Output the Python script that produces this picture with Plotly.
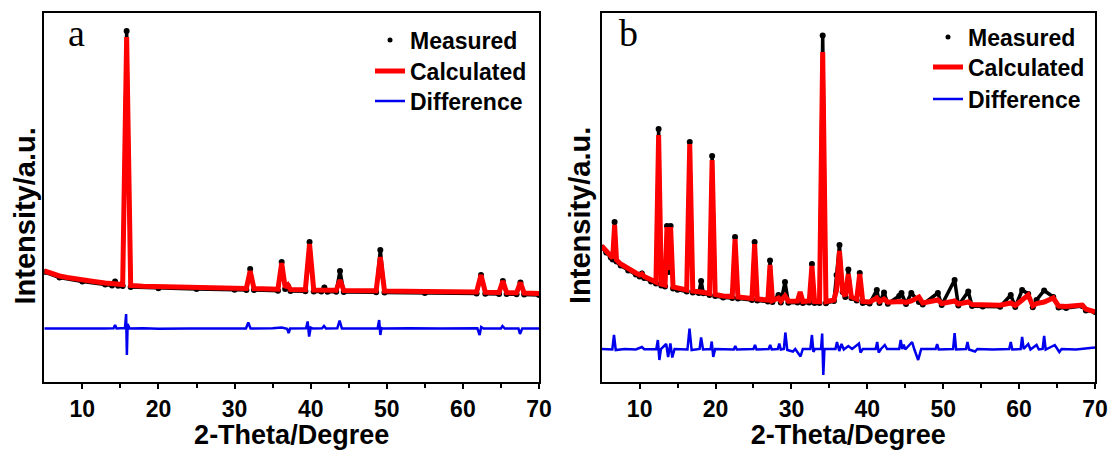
import plotly.graph_objects as go

# ---------------- Panel a ----------------
theta_a_calc = [5, 6, 7, 8, 9, 10, 11.5, 13, 15.3, 15.82, 16.35, 18, 20, 25, 30, 31.55, 32.05, 32.55,
                35.7, 36.19, 36.65, 37.0, 37.35, 39.3, 39.85, 40.4, 43.35, 43.85, 44.35, 48.6, 49.15,
                49.7, 55, 61.8, 62.38, 62.95, 64.75, 65.25, 65.75, 67.05, 67.56, 68.05, 70]
int_a_calc = [111, 108, 106, 104.5, 103, 102, 100.5, 99, 97.5, 345, 96.5, 95.8, 95.3, 94.5, 93.8, 93.6, 111, 93.4,
              92.8, 119, 94.5, 97, 92.5, 92.3, 138, 92, 91.7, 102, 91.6, 91.2, 125,
              91, 90.6, 90, 107, 89.8, 89.6, 101, 89.4, 89.2, 99.5, 89, 88.5]

theta_a_meas = [5, 7, 10, 13, 13.9, 14.3, 14.7, 15.3, 15.82, 16.35, 20, 25, 30, 31.55, 32.05, 32.55, 35.7,
                36.19, 36.65, 37.0, 37.35, 39.3, 39.85, 40.4, 41.4, 41.8, 42.2, 43.35, 43.85, 44.35, 48.6,
                49.15, 49.7, 55, 61.8, 62.38, 62.95, 64.75, 65.25, 65.75, 67.05, 67.56, 68.05, 70]
int_a_meas = [110, 104.5, 100.5, 97.5, 96.5, 100.5, 96.3, 96, 351, 95, 93.8, 93, 92.3, 92, 113, 92, 91.3,
              120, 93, 96, 91, 90.8, 140, 90.5, 90.4, 94.5, 90.3, 90.2, 111, 90, 89.7,
              132, 89.5, 89, 88.5, 107, 88.3, 88, 101, 87.9, 87.7, 99.5, 87.5, 87]

theta_a_diff = [5, 8, 10, 13, 14.1, 14.3, 14.5, 15.6, 15.75, 15.85, 15.95, 16.2, 18, 20, 24, 28, 31.5, 31.8,
                32.1, 35, 36.2, 36.9, 37.1, 37.3, 39.4, 39.6, 39.8, 40.0, 40.3, 41.5, 41.75, 42.0, 43.5,
                43.8, 44.1, 48.8, 49.0, 49.15, 49.3, 49.6, 53, 57, 61.9, 62.2, 62.4, 62.7, 65, 65.2, 65.5,
                67.3, 67.5, 67.8, 70]
int_a_diff = [53.5, 53.3, 53.6, 53.4, 53.7, 57, 53.5, 54, 68, 27, 58, 53.5, 53.8, 53.2, 53.6, 53.4, 53.6, 59.5,
              53.5, 53.7, 54.5, 53.3, 49, 53.5, 53.8, 60.5, 45.5, 54.5, 53.4, 53.8, 56, 53.6, 53.7,
              61.5, 53.4, 53.7, 62, 47, 54, 53.4, 53.8, 53.4, 53.7, 47, 55, 53.5, 53.6, 56, 53.4,
              53.6, 48, 53.5, 53.6]

# ---------------- Panel b ----------------
theta_b_calc = [5, 5.6, 6.2, 6.45, 6.7, 6.95, 7.5, 8.5, 9.5, 10.0, 10.3, 10.6, 11.5, 12.15, 12.5, 12.85,
                13.35, 13.6, 13.85, 14.08, 14.4, 15, 16.2, 16.6, 17.0, 18.1, 19.2, 19.55, 19.95, 21, 22.2,
                22.57, 22.95, 24.8, 25.15, 25.5, 26.9, 27.18, 27.5, 28.3, 28.6, 29.15, 29.6, 30.8, 31.15,
                31.5, 32.35, 32.7, 33.05, 33.7, 34.12, 34.55, 35.6, 35.95, 36.33, 36.75, 37.1, 37.5, 37.9,
                38.6, 39.0, 39.4, 40.3, 41.25, 41.6, 42.2, 42.7, 44.5, 45.1, 45.8, 46.8, 47.3, 49.3, 49.8,
                51.5, 52.0, 53.3, 53.8, 55.2, 57.5, 58.9, 59.5, 60.4, 61.2, 61.8, 62.3, 63.3, 64.5, 65.2,
                66.2, 68.3, 68.8, 70]
int_b_calc = [136, 131, 126, 124, 157, 122, 118, 113, 109, 107, 108, 105.5, 102, 100, 247, 98,
              97, 155, 112, 155, 95, 93.7, 92, 238, 91, 90, 88.5, 222, 87.5, 86, 85.5,
              143, 85, 83.5, 138, 83, 82, 117, 81.5, 84, 81, 86, 80.8, 81, 90,
              80.5, 81, 116, 80.5, 80.4, 330, 80.3, 82, 92, 131, 90, 86, 108, 85,
              83, 108, 80.5, 80, 84, 80.5, 83, 79.8, 80.5, 79.5, 81, 85, 79, 82, 78.5,
              81, 78, 80, 77.5, 77, 76.8, 79, 76.5, 82, 87, 76.3, 78.5, 80, 84, 76,
              75.5, 77, 73, 70]

theta_b_meas = [5, 5.6, 6.2, 6.45, 6.7, 6.95, 7.5, 8.5, 9.5, 10.0, 10.3, 10.6, 11.5, 12.15, 12.5, 12.85,
                13.35, 13.6, 13.85, 14.08, 14.4, 15, 16.2, 16.6, 17.0, 17.8, 18.1, 18.4, 19.2, 19.55, 19.95,
                21, 22.2, 22.57, 22.95, 24.8, 25.15, 25.5, 26.9, 27.18, 27.5, 28.3, 28.6, 29.15, 29.6, 30.8,
                31.15, 31.5, 32.35, 32.7, 33.05, 33.7, 34.12, 34.55, 35.6, 35.95, 36.33, 36.75, 37.1, 37.5,
                37.9, 38.6, 39.0, 39.4, 40.3, 41.25, 41.6, 42.2, 42.7, 44.2, 44.5, 45.1, 45.8, 46.8, 47.3,
                49.3, 49.8, 51.5, 52.0, 53.3, 53.8, 55.2, 57.5, 58.9, 59.5, 60.4, 61.2, 61.8, 62.3, 63.3,
                64.5, 65.2, 66.2, 68.3, 68.8, 70]
int_b_meas = [134.5, 129.5, 124.5, 122.5, 160, 120.5, 116.5, 111.5, 107.5, 105.5, 108.5, 104, 100.5, 98.5, 253, 96.5,
              95.5, 156, 110, 156, 93.5, 92.2, 90.5, 240, 89.5, 89, 101, 88.8, 87, 226, 86,
              84.5, 84, 145, 83.5, 82, 140, 81.5, 80.5, 121.5, 80, 87, 79.5, 100, 79.3, 79.5,
              86, 79, 79.5, 118, 79, 78.9, 346.5, 78.8, 81, 107, 137, 90, 85, 112.5,
              84, 81.5, 109, 79, 78.5, 92, 79, 89.5, 78.3, 86, 89, 78, 89, 80, 77.5,
              89, 77, 102, 76.5, 90.5, 76, 75.5, 75.3, 87, 75, 92, 88, 74.8, 82, 91.5,
              85, 74.5, 74, 76, 71.5, 70]

theta_b_diff = [5, 6.4, 6.62, 6.85, 8, 9.5, 10.3, 10.6, 12.2, 12.4, 12.6, 12.8, 13.5, 13.75, 14.05, 14.3,
                14.6, 16.3, 16.57, 16.85, 17.9, 18.1, 18.35, 19.35, 19.5, 19.7, 19.95, 22.4, 22.6, 22.8,
                25.0, 25.2, 25.4, 27.0, 27.2, 27.4, 28.2, 28.4, 28.6, 29.0, 29.2, 29.45, 30.2, 30.5, 31.2,
                31.5, 32.5, 32.7, 32.9, 33.1, 33.9, 34.05, 34.2, 34.35, 35.8, 36.0, 36.3, 36.6, 36.9, 37.5,
                38.0, 38.9, 39.1, 39.4, 41.1, 41.3, 41.5, 41.8, 42.3, 42.6, 44.2, 44.4, 44.6, 44.8, 45.0,
                45.9, 46.2, 46.7, 47.1, 49.0, 49.2, 49.4, 51.3, 51.5, 51.7, 53.0, 53.2, 53.4, 54.2, 54.5,
                56.5, 58.7, 58.9, 59.1, 60.2, 60.4, 60.6, 61.2, 61.5, 62.3, 62.6, 63.1, 63.3, 63.5, 64.7,
                65.0, 65.3, 65.6, 67.5, 70]
int_b_diff = [33, 32.5, 47, 32, 33, 32.5, 35, 32.8, 33, 42, 22, 33, 38, 25, 38.5, 24.5,
              33, 32.5, 53.5, 32, 33, 44.5, 32.5, 33, 40.5, 25, 33, 32.5, 36, 32.5,
              33, 37, 32.5, 33, 37, 32.5, 33, 38.5, 32.5, 33, 49.5, 32, 30.5, 33, 25.5,
              33, 33, 47, 30, 33, 33, 48.5, 7, 33, 33, 40, 31, 38, 32.5, 36,
              33, 38.5, 29.5, 33, 33, 40, 29.5, 33, 37, 33, 33, 42, 33, 37.5, 32.5,
              40, 32.5, 22, 33, 33, 38, 32.5, 33, 49, 32.5, 33, 40, 32.5, 30.5, 33,
              32.5, 33, 40, 32.5, 33, 45, 33, 38, 32.5, 37, 32.5, 33, 46, 32.5, 37,
              33, 30, 33, 32.5, 34.5]

x_ticks = [10, 20, 30, 40, 50, 60, 70]
x_minor_ticks = [15, 25, 35, 45, 55, 65]
x_title = "2-Theta/Degree"
y_title = "Intensity/a.u."
panel_labels = ["a", "b"]
series_names = ["Measured", "Calculated", "Difference"]

SANS = "Arial, Liberation Sans, sans-serif"
SERIF = "Times New Roman, Liberation Serif, serif"
RED = "#ff0000"
BLUE = "#0000ee"
W, H = 1114, 450

fig = go.Figure()

panels = [
    ("x", "y", ["legend", "legend2", "legend3"],
     theta_a_meas, int_a_meas, theta_a_calc, int_a_calc, theta_a_diff, int_a_diff),
    ("x2", "y2", ["legend4", "legend5", "legend6"],
     theta_b_meas, int_b_meas, theta_b_calc, int_b_calc, theta_b_diff, int_b_diff),
]
for xa, ya, lgs, tm, im, tc, ic, td, idf in panels:
    fig.add_trace(go.Scatter(x=tm, y=im, mode="lines+markers", xaxis=xa, yaxis=ya,
                             line=dict(color="black", width=3.5),
                             marker=dict(color="black", size=6),
                             showlegend=False, legendgroup="m" + xa, name=series_names[0]))
    fig.add_trace(go.Scatter(x=tc, y=ic, mode="lines", xaxis=xa, yaxis=ya,
                             line=dict(color=RED, width=5),
                             showlegend=False, legendgroup="c" + xa, name=series_names[1]))
    fig.add_trace(go.Scatter(x=td, y=idf, mode="lines", xaxis=xa, yaxis=ya,
                             line=dict(color=BLUE, width=2.5),
                             showlegend=False, legendgroup="d" + xa, name=series_names[2]))
    # legend entries (one legend box per entry for exact row placement)
    fig.add_trace(go.Scatter(x=[None], y=[None], mode="markers", xaxis=xa, yaxis=ya,
                             marker=dict(color="black", size=5), name=series_names[0],
                             legend=lgs[0], legendgroup="m" + xa))
    fig.add_trace(go.Scatter(x=[None], y=[None], mode="lines", xaxis=xa, yaxis=ya,
                             line=dict(color=RED, width=5), name=series_names[1],
                             legend=lgs[1], legendgroup="c" + xa))
    fig.add_trace(go.Scatter(x=[None], y=[None], mode="lines", xaxis=xa, yaxis=ya,
                             line=dict(color=BLUE, width=2.5), name=series_names[2],
                             legend=lgs[2], legendgroup="d" + xa))

y_dom = [1 - 382 / H, 1 - 13 / H]


def xaxis_cfg(domain, anchor):
    return dict(domain=domain, anchor=anchor, range=[5, 70], tickvals=x_ticks,
                showline=True, linecolor="black", linewidth=2, mirror=True,
                ticks="outside", ticklen=5, tickwidth=2, tickcolor="black",
                minor=dict(tickvals=x_minor_ticks, ticks="outside", ticklen=4,
                           tickwidth=2, tickcolor="black"),
                showgrid=False, zeroline=False,
                tickfont=dict(family=SANS, size=23, color="black", weight="bold"),
                title=dict(text=x_title, font=dict(family=SANS, size=27, color="black", weight="bold"),
                           standoff=2),
                automargin=False)


def yaxis_cfg(anchor):
    return dict(domain=y_dom, anchor=anchor, range=[0, 369],
                showline=True, linecolor="black", linewidth=2, mirror=True,
                ticks="", showticklabels=False, showgrid=False, zeroline=False,
                automargin=False)


def legend_cfg(x_px, y_px):
    return dict(font=dict(family=SANS, size=23, color="black", weight="bold"),
                bgcolor="rgba(0,0,0,0)", borderwidth=0,
                x=x_px / W, y=1 - y_px / H, xanchor="left", yanchor="middle", itemwidth=30)


def ytitle(x_px):
    return dict(text=y_title, xref="paper", yref="paper", x=x_px / W, y=1 - 216 / H,
                xanchor="center", yanchor="middle", textangle=-90, showarrow=False,
                font=dict(family=SANS, size=29, color="black", weight="bold"))


def plabel(x_px, txt):
    return dict(text=txt, xref="paper", yref="paper", x=x_px / W, y=1 - 56 / H,
                xanchor="center", yanchor="bottom", showarrow=False,
                font=dict(family=SERIF, size=38, color="black"))


fig.update_layout(
    width=W, height=H, autosize=False,
    margin=dict(l=0, r=0, t=0, b=0),
    paper_bgcolor="white", plot_bgcolor="white",
    xaxis=xaxis_cfg([44.3 / W, 539 / W], "y"),
    yaxis=yaxis_cfg("x"),
    xaxis2=xaxis_cfg([601.7 / W, 1095 / W], "y2"),
    yaxis2=yaxis_cfg("x2"),
    legend=legend_cfg(370, 40),
    legend2=legend_cfg(370, 71),
    legend3=legend_cfg(370, 101),
    legend4=legend_cfg(928, 37),
    legend5=legend_cfg(928, 67),
    legend6=legend_cfg(928, 99),
    annotations=[ytitle(24.5), ytitle(580), plabel(76, panel_labels[0]), plabel(628, panel_labels[1])],
)

fig.write_html("out.html", config={"displayModeBar": False},
               post_script="document.body.style.margin='0';document.body.style.overflow='hidden';")
